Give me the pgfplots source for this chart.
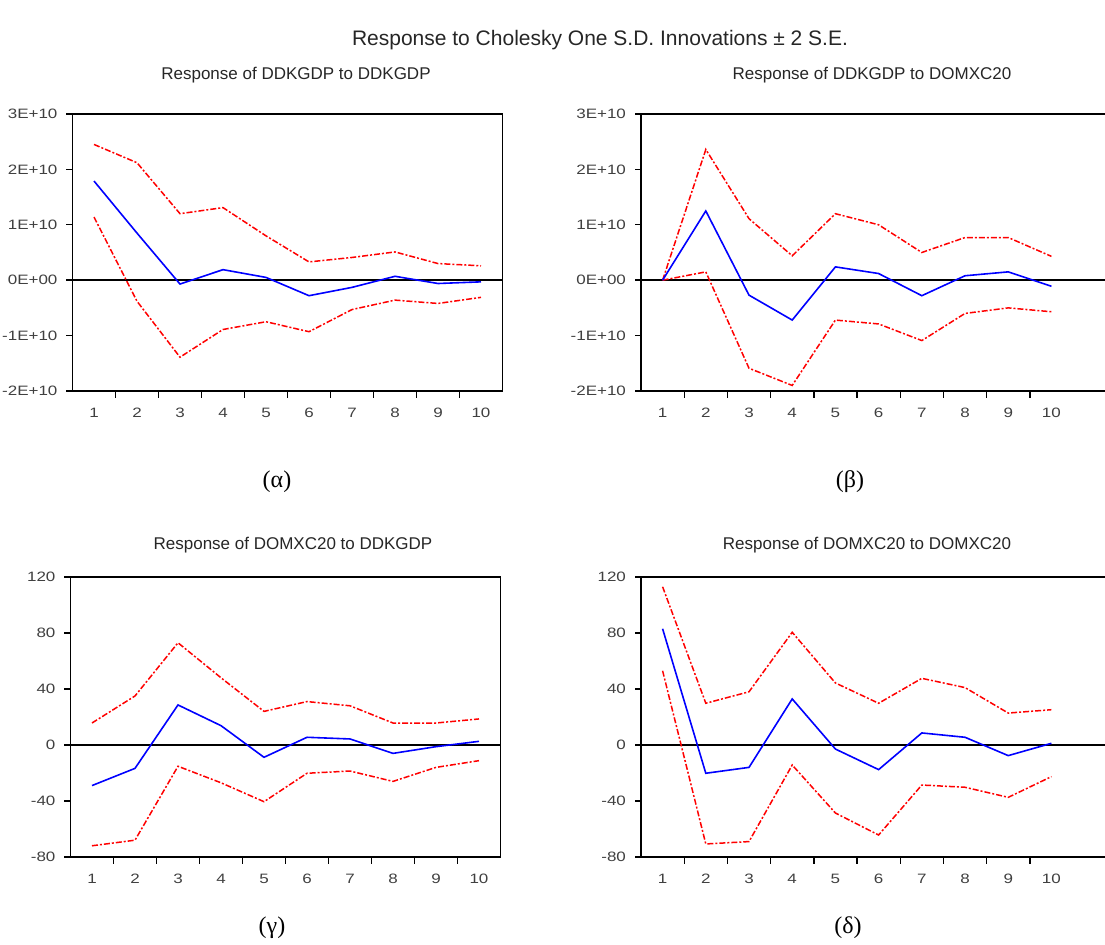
\documentclass[border=0pt]{standalone}
\usepackage{fontspec}
\setmainfont{Liberation Sans}
\newfontfamily\serif{Liberation Serif}
\newfontfamily\tickfont{Liberation Sans}[FakeStretch=1.25]
\usepackage{pgfplots}
\usepackage{pgfplotstable}
\pgfplotsset{compat=1.18}

\pgfplotstableread{
x mid up lo
1 1.79e10 2.45e10 1.14e10
2 0.85e10 2.12e10 -0.38e10
3 -0.07e10 1.20e10 -1.39e10
4 0.19e10 1.31e10 -0.89e10
5 0.05e10 0.80e10 -0.75e10
6 -0.28e10 0.33e10 -0.93e10
7 -0.13e10 0.41e10 -0.53e10
8 0.07e10 0.51e10 -0.36e10
9 -0.06e10 0.30e10 -0.42e10
10 -0.03e10 0.26e10 -0.31e10
}\tabA
\pgfplotstableread{
x mid up lo
1 0 0 0
2 1.25e10 2.36e10 0.15e10
3 -0.27e10 1.11e10 -1.59e10
4 -0.72e10 0.44e10 -1.90e10
5 0.24e10 1.20e10 -0.72e10
6 0.12e10 1.00e10 -0.79e10
7 -0.28e10 0.50e10 -1.09e10
8 0.08e10 0.77e10 -0.60e10
9 0.15e10 0.77e10 -0.50e10
10 -0.11e10 0.43e10 -0.57e10
}\tabB
\pgfplotstableread{
x mid up lo
1 -29 15.7 -72
2 -16.7 35 -68
3 28.6 73 -15.2
4 13.8 48 -27
5 -8.8 24 -40.5
6 5.5 31 -20.2
7 4.3 28 -18.6
8 -6 15.7 -26
9 -1.2 15.7 -16
10 2.6 18.6 -11.2
}\tabC
\pgfplotstableread{
x mid up lo
1 83 113 53
2 -20.2 29.8 -70.7
3 -16 38 -69
4 32.9 80.5 -14.3
5 -2.9 44.3 -48.6
6 -17.6 29.8 -64.3
7 8.6 47.6 -28.6
8 5.5 41 -30.2
9 -7.6 22.8 -37.4
10 1.2 25.2 -22.6
}\tabD

\pgfplotsset{
  irf/.style={
    scale only axis,
    anchor=south west,
    xmin=0.5,
    xtick={1,...,10},
    xticklabels={1,2,3,4,5,6,7,8,9,10},
    minor xtick={1.5,2.5,...,9.5},
    tick pos=left,
    tick align=outside,
    scaled y ticks=false,
    major x tick style={draw=none},
    minor tick length=3.5pt,
    major tick length=3pt,
    tick style={black, line width=0.7pt},
    axis line style={line width=0.75pt},
    ticklabel style={font=\tickfont\fontsize{6.8}{8}\selectfont, text=black!75},
    xticklabel style={yshift=-2pt},
    yticklabel style={xshift=-1pt},
    clip=false,
  },
  mid/.style={blue, line width=0.8pt},
  band/.style={red, line width=0.75pt, dash pattern=on 3pt off 1pt on 1pt off 1pt},
  zero/.style={black, line width=0.8pt},
}

\begin{document}
\begin{tikzpicture}
\useasboundingbox (0,0) rectangle (552.5pt,472.5pt);

\node[font=\fontsize{10.5}{12}\selectfont, text=black!85] at (300pt,452.5pt) {Response to Cholesky One S.D. Innovations ± 2 S.E.};
\node[font=\fontsize{8.5}{10}\selectfont, text=black!85] at (148pt,435pt) {Response of DDKGDP to DDKGDP};
\node[font=\fontsize{8.5}{10}\selectfont, text=black!85] at (436pt,435pt) {Response of DDKGDP to DOMXC20};
\node[font=\fontsize{8.5}{10}\selectfont, text=black!85] at (146.5pt,200pt) {Response of DOMXC20 to DDKGDP};
\node[font=\fontsize{8.5}{10}\selectfont, text=black!85] at (433.5pt,200pt) {Response of DOMXC20 to DOMXC20};

\node[font=\serif\fontsize{12}{14}\selectfont] at (138.5pt,231.5pt) {(α)};
\node[font=\serif\fontsize{12}{14}\selectfont] at (425pt,231.5pt) {(β)};
\node[font=\serif\fontsize{12}{14}\selectfont] at (136pt,8.5pt) {(γ)};
\node[font=\serif\fontsize{12}{14}\selectfont] at (424pt,8.5pt) {(δ)};

% top-left
\begin{axis}[irf, at={(36.25pt,277pt)}, width=215pt, height=138.5pt, xmax=10.5,
  ymin=-2e10, ymax=3e10, ytick={-2e10,-1e10,0,1e10,2e10,3e10},
  yticklabels={-2E+10,-1E+10,0E+00,1E+10,2E+10,3E+10}]
\addplot[zero] coordinates {(0.5,0) (10.5,0)};
\addplot[band] table[x=x,y=up] {\tabA};
\addplot[band] table[x=x,y=lo] {\tabA};
\addplot[mid] table[x=x,y=mid] {\tabA};
\end{axis}

% top-right
\begin{axis}[irf, at={(320.5pt,277pt)}, width=233.3pt, height=138.5pt, xmax=11.3,
  ymin=-2e10, ymax=3e10, ytick={-2e10,-1e10,0,1e10,2e10,3e10},
  yticklabels={-2E+10,-1E+10,0E+00,1E+10,2E+10,3E+10}]
\addplot[zero] coordinates {(0.5,0) (11.3,0)};
\addplot[band] table[x=x,y=up] {\tabB};
\addplot[band] table[x=x,y=lo] {\tabB};
\addplot[mid] table[x=x,y=mid] {\tabB};
\end{axis}

% bottom-left
\begin{axis}[irf, at={(35.25pt,44pt)}, width=215pt, height=140pt, xmax=10.5,
  ymin=-80, ymax=120, ytick={-80,-40,0,40,80,120},
  yticklabels={-80,-40,0,40,80,120}]
\addplot[zero] coordinates {(0.5,0) (10.5,0)};
\addplot[band] table[x=x,y=up] {\tabC};
\addplot[band] table[x=x,y=lo] {\tabC};
\addplot[mid] table[x=x,y=mid] {\tabC};
\end{axis}

% bottom-right
\begin{axis}[irf, at={(320.5pt,44pt)}, width=233.3pt, height=140pt, xmax=11.3,
  ymin=-80, ymax=120, ytick={-80,-40,0,40,80,120},
  yticklabels={-80,-40,0,40,80,120}]
\addplot[zero] coordinates {(0.5,0) (11.3,0)};
\addplot[band] table[x=x,y=up] {\tabD};
\addplot[band] table[x=x,y=lo] {\tabD};
\addplot[mid] table[x=x,y=mid] {\tabD};
\end{axis}
\end{tikzpicture}
\end{document}
